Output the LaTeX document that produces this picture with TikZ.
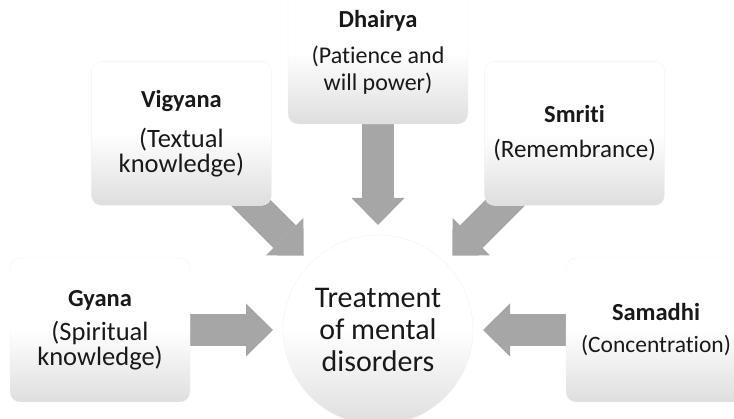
\documentclass[tikz,border=0pt]{standalone}
\usepackage{fontspec}
\setmainfont{Carlito}[Ligatures={NoCommon,NoContextual}]
\usetikzlibrary{arrows.meta,backgrounds}
\definecolor{arrowgray}{RGB}{166,166,166}
\definecolor{shadegray}{RGB}{222,222,222}
\newcommand{\boxtitle}[1]{{\fontsize{24.5}{26}\selectfont\bfseries #1}}

\begin{document}
\begin{tikzpicture}[
  x=1pt, y=1pt,
  box/.style={rounded corners=10pt, draw=black!5, top color=white, bottom color=shadegray, middle color=white, minimum width=180pt, minimum height=144pt, inner sep=2pt, align=center, text=black!90},
  hub/.style={circle, draw=black!5, top color=white, bottom color=shadegray, middle color=white, minimum size=190pt, align=center, font=\fontsize{30}{32}\selectfont, text=black!90},
  flow/.style={draw=arrowgray, line width=32pt, -{Triangle[width=53pt 0 0, length=27pt 0 0, line width=0pt 0 0]}}
]
\useasboundingbox (0,0) rectangle (734,419);
\clip (0,0) rectangle (734,419);
\node[hub] (treat) at (378,89) {Treatment\\of mental\\disorders};
\node[box, font=\fontsize{26.5}{25}\selectfont] (gyana) at ([shift={(180:278)}]treat.center) {\boxtitle{Gyana}\\[9pt](Spiritual\\knowledge)};
\node[box, font=\fontsize{26.5}{25}\selectfont] (vigyana) at ([shift={(135:278)}]treat.center) {\boxtitle{Vigyana}\\[15pt](Textual\\knowledge)};
\node[box, font=\fontsize{24}{27}\selectfont] (dhairya) at ([shift={(90:278)}]treat.center) {\boxtitle{Dhairya}\\[9pt](Patience and\\will power)};
\node[box, font=\fontsize{25}{27}\selectfont] (smriti) at ([shift={(45:278)}]treat.center) {\boxtitle{Smriti}\\[8pt](Remembrance)};
\node[box, font=\fontsize{23.5}{27}\selectfont] (samadhi) at ([shift={(0:278)}]treat.center) {\boxtitle{Samadhi}\\[5pt](Concentration)};
% arrow tips stop short of the circle
\coordinate (gyanatip) at ([shift={(180:105)}]treat.center);
\coordinate (vigyanatip) at ([shift={(135:105)}]treat.center);
\coordinate (dhairyatip) at ([shift={(90:105)}]treat.center);
\coordinate (smrititip) at ([shift={(45:105)}]treat.center);
\coordinate (samadhitip) at ([shift={(0:105)}]treat.center);
\begin{scope}[on background layer]
\draw[flow] (gyana.center) -- (gyanatip);
\draw[flow] (vigyana.center) -- (vigyanatip);
\draw[flow] (dhairya.center) -- (dhairyatip);
\draw[flow] (smriti.center) -- (smrititip);
\draw[flow] (samadhi.center) -- (samadhitip);
\end{scope}
\end{tikzpicture}
\end{document}
